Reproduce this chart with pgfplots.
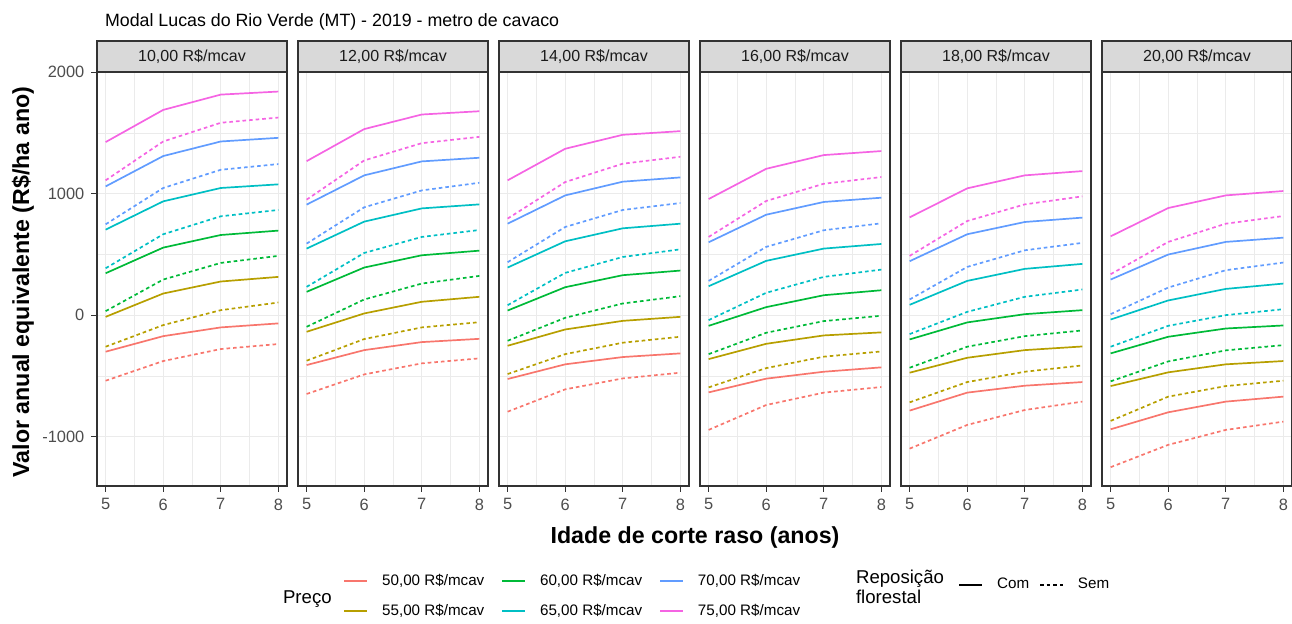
\documentclass[border=0pt]{standalone}
\usepackage{fontspec}
\setmainfont{Liberation Sans}
\usepackage{pgfplots}
\usepackage{pgfplotstable}
\pgfplotsset{compat=1.18}

\definecolor{grey10}{HTML}{1A1A1A}
\definecolor{grey20}{HTML}{333333}
\definecolor{grey30}{HTML}{4D4D4D}
\definecolor{grey85}{HTML}{D9D9D9}
\definecolor{grey92}{HTML}{EBEBEB}
\definecolor{p50}{HTML}{F8766D}
\definecolor{p55}{HTML}{B79F00}
\definecolor{p60}{HTML}{00BA38}
\definecolor{p65}{HTML}{00BFC4}
\definecolor{p70}{HTML}{619CFF}
\definecolor{p75}{HTML}{F564E3}

% c = com reposicao, s = sem reposicao
\pgfplotstableread{
x c50 s50 c55 s55 c60 s60 c65 s65 c70 s70 c75 s75
5 -301 -540 -14 -260 345 33 704 386 1060 748 1425 1110
6 -173 -378 178 -82 556 293 937 666 1310 1047 1690 1430
7 -101 -279 277 41 660 430 1047 814 1430 1197 1816 1584
8 -68 -238 315 104 696 488 1077 866 1460 1244 1841 1627
}\tabA
\pgfplotstableread{
x c50 s50 c55 s55 c60 s60 c65 s65 c70 s70 c75 s75
5 -411 -649 -137 -375 192 -96 548 233 910 589 1268 951
6 -288 -488 14 -197 392 129 770 512 1151 888 1532 1274
7 -222 -397 110 -101 493 260 879 644 1266 1027 1652 1416
8 -195 -356 151 -58 531 323 912 701 1296 1090 1679 1468
}\tabB
\pgfplotstableread{
x c50 s50 c55 s55 c60 s60 c65 s65 c70 s70 c75 s75
5 -526 -795 -252 -485 38 -211 392 82 753 436 1110 795
6 -405 -611 -118 -321 230 -22 608 348 986 726 1370 1096
7 -345 -521 -47 -227 329 96 715 479 1099 866 1485 1247
8 -315 -474 -14 -178 367 156 753 542 1134 923 1515 1304
}\tabC
\pgfplotstableread{
x c50 s50 c55 s55 c60 s60 c65 s65 c70 s70 c75 s75
5 -636 -945 -362 -595 -88 -321 238 -41 600 282 956 644
6 -523 -740 -236 -436 66 -145 447 184 827 562 1205 940
7 -466 -638 -167 -342 164 -49 548 315 932 699 1318 1082
8 -430 -592 -142 -299 205 -5 586 375 967 756 1351 1137
}\tabD
\pgfplotstableread{
x c50 s50 c55 s55 c60 s60 c65 s65 c70 s70 c75 s75
5 -786 -1099 -474 -718 -200 -433 85 -156 444 129 805 488
6 -638 -904 -351 -551 -60 -260 282 27 666 397 1044 775
7 -581 -781 -288 -466 8 -173 381 151 767 534 1151 912
8 -551 -712 -258 -414 41 -126 422 211 803 595 1186 978
}\tabE
\pgfplotstableread{
x c50 s50 c55 s55 c60 s60 c65 s65 c70 s70 c75 s75
5 -940 -1252 -584 -871 -315 -545 -36 -260 293 8 649 337
6 -800 -1068 -471 -671 -178 -381 121 -88 499 227 882 603
7 -712 -945 -405 -584 -110 -290 216 0 603 370 986 753
8 -671 -877 -378 -540 -85 -247 260 49 638 433 1022 816
}\tabF

\pgfplotsset{
  facet/.style={scale only axis, width=95pt, height=207pt, anchor=north west,
    xmin=4.85, xmax=8.15, ymin=-1407, ymax=2002,
    xtick={5,6,7,8}, xticklabels={5,6,7,8}, minor xtick={5.5,6.5,7.5},
    ytick={-1000,0,1000,2000}, yticklabels={-1000,0,1000,2000},
    minor ytick={-500,500,1500},
    grid=both, major grid style={grey92, line width=0.55pt},
    minor grid style={grey92, line width=0.3pt},
    axis line style={grey20, line width=0.55pt},
    tick align=outside, major tick length=2.8pt, minor tick length=0pt,
    tick style={grey20, line width=0.55pt},
    xtick pos=left, ytick pos=left,
    ticklabel style={font=\fontsize{8.2}{9}\selectfont, text=grey30},
    every axis title/.style={at={(0.5,1)}, anchor=south, draw=grey20,
      fill=grey85, line width=0.55pt, minimum width=95pt,
      minimum height=15.25pt, inner sep=0pt,
      font=\fontsize{8}{9}\selectfont, text=grey10},
    every axis plot/.append style={line width=0.85pt},
  },
  noy/.style={yticklabels={}, ytick style={draw=none}},
  sem/.style={dash pattern=on 1.8pt off 1.5pt},
}

\newcommand{\facet}[4]{%
\begin{axis}[facet, at={(#1,-36pt)}, title={#3}, #4]
\pgfplotsinvokeforeach{50,55,60,65,70,75}{
  \addplot[p##1] table[x=x, y=c##1] {#2};
  \addplot[p##1, sem] table[x=x, y=s##1] {#2};
}
\end{axis}}

\begin{document}
\begin{tikzpicture}
\useasboundingbox (0,0) rectangle (646pt,-311.5pt);

\facet{48.5pt}{\tabA}{10,00 R\$/mcav}{}
\facet{149pt}{\tabB}{12,00 R\$/mcav}{noy}
\facet{249.5pt}{\tabC}{14,00 R\$/mcav}{noy}
\facet{350pt}{\tabD}{16,00 R\$/mcav}{noy}
\facet{450.5pt}{\tabE}{18,00 R\$/mcav}{noy}
\facet{551pt}{\tabF}{20,00 R\$/mcav}{noy}

\node[anchor=base west, font=\fontsize{8.9}{10}\selectfont] at (49pt,-13.4pt)
  {Modal Lucas do Rio Verde (MT) - 2019 - metro de cavaco};
\node[anchor=base, rotate=90, font=\fontsize{11.6}{13}\selectfont\bfseries]
  at (14.5pt,-141pt) {Valor anual equivalente (R\$/ha ano)};
\node[anchor=base, font=\fontsize{11.6}{13}\selectfont\bfseries]
  at (347.5pt,-271.5pt) {Idade de corte raso (anos)};

% price legend
\begin{axis}[hide axis, scale only axis, width=646pt, height=311.5pt,
  at={(0pt,-311.5pt)}, anchor=south west, xmin=0, xmax=1, ymin=0, ymax=1,
  legend columns=3, legend cell align=left,
  legend style={at={(0.2655,0.0859)}, anchor=north west, draw=none,
    fill=none, inner sep=0pt, font=\fontsize{7.6}{9}\selectfont,
    row sep=4pt,
    /tikz/every odd column/.append style={column sep=5pt},
    /tikz/every even column/.append style={column sep=6.5pt}},
  legend image code/.code={\draw[#1, line width=0.85pt] (0pt,0pt) -- (11.5pt,0pt);}]
\addlegendimage{p50}\addlegendentry{50,00 R\$/mcav}
\addlegendimage{p60}\addlegendentry{60,00 R\$/mcav}
\addlegendimage{p70}\addlegendentry{70,00 R\$/mcav}
\addlegendimage{p55}\addlegendentry{55,00 R\$/mcav}
\addlegendimage{p65}\addlegendentry{65,00 R\$/mcav}
\addlegendimage{p75}\addlegendentry{75,00 R\$/mcav}
\end{axis}

% reposicao legend
\begin{axis}[hide axis, scale only axis, width=646pt, height=311.5pt,
  at={(0pt,-311.5pt)}, anchor=south west, xmin=0, xmax=1, ymin=0, ymax=1,
  legend columns=2, legend cell align=left,
  legend style={at={(0.7415,0.0787)}, anchor=north west, draw=none,
    fill=none, inner sep=0pt, font=\fontsize{7.6}{9}\selectfont,
    /tikz/every odd column/.append style={column sep=5pt},
    /tikz/every even column/.append style={column sep=3pt}},
  legend image code/.code={\draw[#1, line width=0.85pt] (0pt,0pt) -- (11.5pt,0pt);}]
\addlegendimage{black}\addlegendentry{Com}
\addlegendimage{black, sem}\addlegendentry{Sem}
\end{axis}

\node[anchor=base west, font=\fontsize{9.3}{10}\selectfont] at (138pt,-301.8pt) {Preço};
\node[anchor=base west, font=\fontsize{9.3}{10}\selectfont] at (424.5pt,-291.5pt) {Reposição};
\node[anchor=base west, font=\fontsize{9.3}{10}\selectfont] at (424.5pt,-301.5pt) {florestal};
\end{tikzpicture}
\end{document}
